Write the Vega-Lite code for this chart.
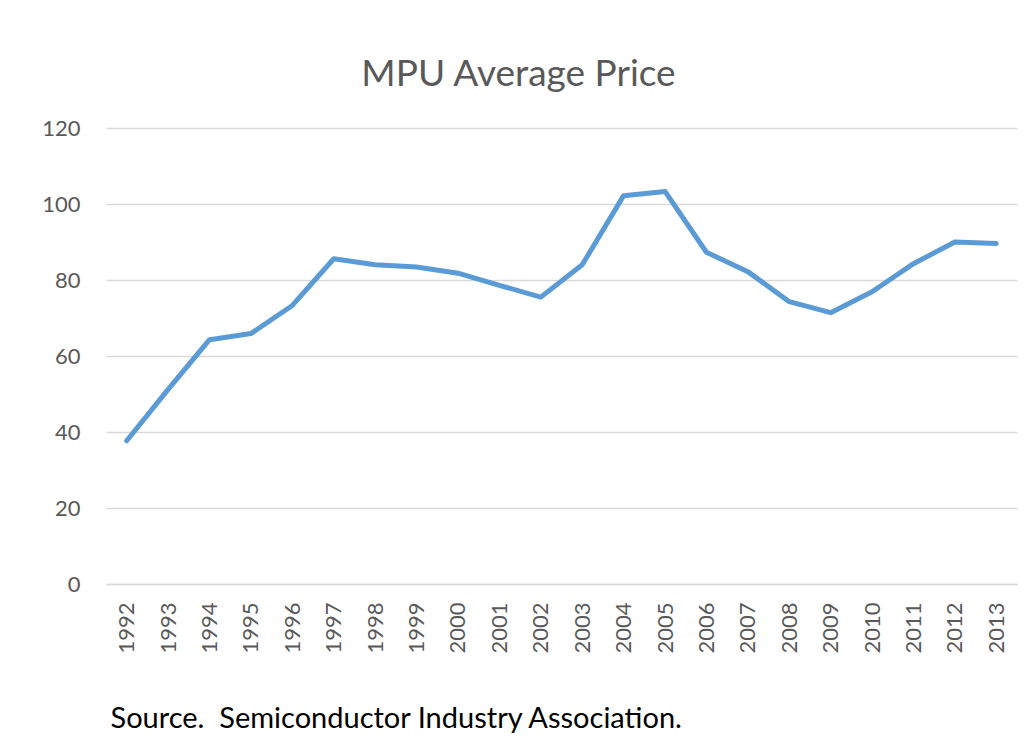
{
  "$schema": "https://vega.github.io/schema/vega-lite/v6.json",
  "width": 911,
  "height": 456,
  "autosize": {"type": "none"},
  "padding": {"left": 106, "top": 128, "right": 11, "bottom": 168},
  "background": "white",
  "title": {
    "text": "MPU Average Price",
    "font": "Lato",
    "fontSize": 37,
    "fontWeight": "normal",
    "color": "#595959",
    "anchor": "middle",
    "frame": "group",
    "baseline": "alphabetic",
    "offset": -6,
    "dx": -43
  },
  "data": {
    "values": [
      {"year": "1992", "price": 37.7},
      {"year": "1993", "price": 51.2},
      {"year": "1994", "price": 64.3},
      {"year": "1995", "price": 65.9},
      {"year": "1996", "price": 73.3},
      {"year": "1997", "price": 85.6},
      {"year": "1998", "price": 84.0},
      {"year": "1999", "price": 83.4},
      {"year": "2000", "price": 81.8},
      {"year": "2001", "price": 78.6},
      {"year": "2002", "price": 75.5},
      {"year": "2003", "price": 84.0},
      {"year": "2004", "price": 102.2},
      {"year": "2005", "price": 103.3},
      {"year": "2006", "price": 87.3},
      {"year": "2007", "price": 82.2},
      {"year": "2008", "price": 74.3},
      {"year": "2009", "price": 71.4},
      {"year": "2010", "price": 76.9},
      {"year": "2011", "price": 84.3},
      {"year": "2012", "price": 90.0},
      {"year": "2013", "price": 89.6}
    ]
  },
  "mark": {"type": "line", "color": "#5B9BD5", "strokeWidth": 5, "strokeJoin": "round", "strokeCap": "round"},
  "encoding": {
    "x": {
      "field": "year",
      "type": "ordinal",
      "scale": {"padding": 0.5},
      "axis": {
        "title": "Source.\u00a0 Semiconductor Industry Association.",
        "titleFont": "Lato",
        "titleFontSize": 29,
        "titleFontWeight": "normal",
        "titleColor": "#000000",
        "titleAnchor": "start",
        "titleAlign": "left",
        "titleBaseline": "alphabetic",
        "titleX": 4,
        "titleY": 143,
        "labelAngle": -90,
        "labelFont": "Lato",
        "labelFontSize": 22,
        "labelColor": "#595959",
        "labelPadding": 18,
        "ticks": false,
        "domainColor": "#D9D9D9",
        "domainWidth": 1.5,
        "grid": false
      }
    },
    "y": {
      "field": "price",
      "type": "quantitative",
      "scale": {"domain": [0, 120], "nice": false},
      "axis": {
        "title": null,
        "values": [0, 20, 40, 60, 80, 100, 120],
        "labelFont": "Lato",
        "labelFontSize": 22,
        "labelColor": "#595959",
        "labelPadding": 26,
        "ticks": false,
        "domain": false,
        "gridColor": "#D9D9D9",
        "gridWidth": 1.5
      }
    }
  },
  "config": {"view": {"stroke": null}}
}
